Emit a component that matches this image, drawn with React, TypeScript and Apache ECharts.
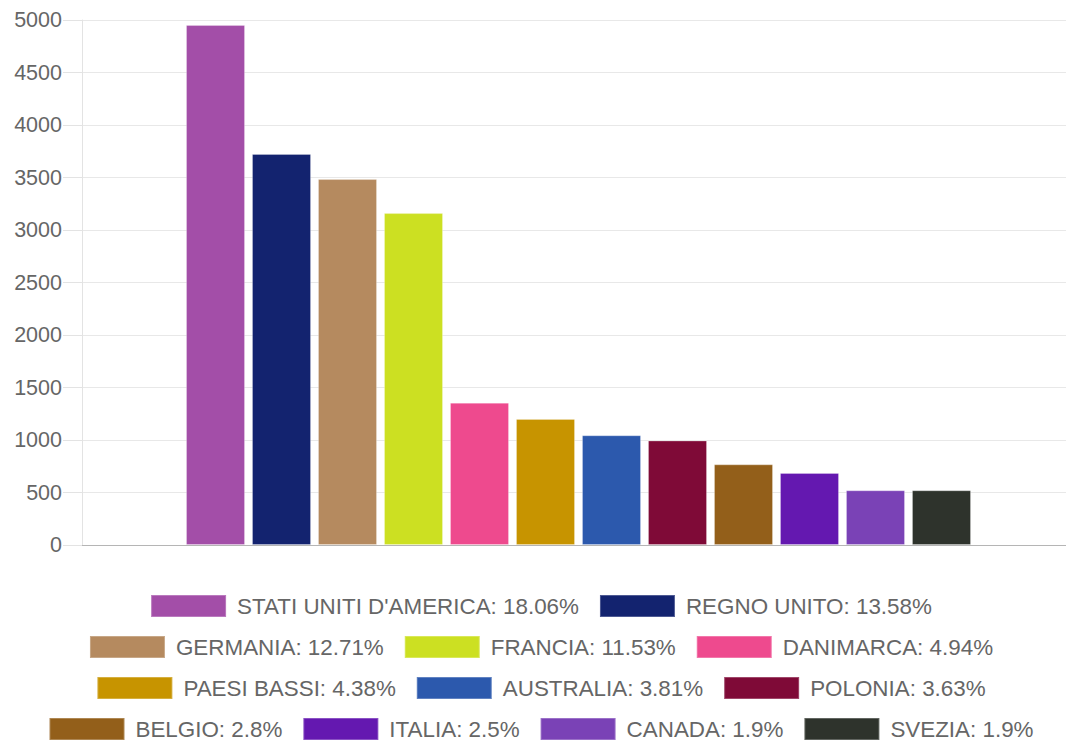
import React, { useEffect, useRef } from "react";
import * as echarts from "echarts";

const countries = [
  "STATI UNITI D'AMERICA",
  "REGNO UNITO",
  "GERMANIA",
  "FRANCIA",
  "DANIMARCA",
  "PAESI BASSI",
  "AUSTRALIA",
  "POLONIA",
  "BELGIO",
  "ITALIA",
  "CANADA",
  "SVEZIA",
];
const values = [4952, 3724, 3485, 3161, 1355, 1201, 1045, 995, 768, 686, 521, 521];
const percents = ["18.06", "13.58", "12.71", "11.53", "4.94", "4.38", "3.81", "3.63", "2.8", "2.5", "1.9", "1.9"];
const colors = [
  "#A34EA8",
  "#13236F",
  "#B58A5F",
  "#CCE022",
  "#EE4A8E",
  "#C79400",
  "#2C59AD",
  "#7F0A37",
  "#935F1A",
  "#6418B0",
  "#7A42B6",
  "#2E332C",
];
const legendRows = [[0, 1], [2, 3, 4], [5, 6, 7], [8, 9, 10, 11]];
const yTicks = { min: 0, max: 5000, interval: 500 };

export default function App() {
  const ref = useRef<HTMLDivElement>(null);
  useEffect(() => {
    document.body.style.margin = "0";
    document.body.style.overflow = "hidden";
    const chart = echarts.init(ref.current!, null, { renderer: "svg" });
    const names = countries.map((c, i) => `${c}: ${percents[i]}%`);
    const rowTops = [594, 635, 676, 717];
    chart.setOption({
      animation: false,
      textStyle: { fontFamily: "Liberation Sans, Arial, sans-serif" },
      grid: { left: 82, top: 20, width: 993, height: 525 },
      xAxis: {
        type: "category",
        data: [""],
        axisLine: { show: true, lineStyle: { color: "#b5b5b5", width: 1 } },
        axisTick: { show: false },
        axisLabel: { show: false },
        splitLine: { show: false },
      },
      yAxis: {
        type: "value",
        min: yTicks.min,
        max: yTicks.max,
        interval: yTicks.interval,
        axisLine: { show: true, lineStyle: { color: "#e3e3e3" } },
        axisTick: { show: true, length: 19, lineStyle: { color: "#e3e3e3" } },
        axisLabel: {
          color: "#666",
          fontSize: 21.5,
          margin: 20,
          formatter: (v: number) => String(v),
          fontFamily: "Liberation Sans, Arial, sans-serif",
        },
        splitLine: { show: true, lineStyle: { color: "#e8e8e8", width: 1 } },
      },
      legend: legendRows.map((row, r) => ({
        data: row.map((i) => names[i]),
        left: "center",
        top: rowTops[r],
        padding: 0,
        itemWidth: 75,
        itemHeight: 22,
        itemGap: 20,
        icon: "rect",
        textStyle: {
          color: "#666",
          fontSize: 22.4,
          lineHeight: 22,
          padding: [0, 0, 0, 6],
          fontFamily: "Liberation Sans, Arial, sans-serif",
        },
      })),
      series: values.map((v, i) => ({
        type: "bar",
        name: names[i],
        data: [v],
        barWidth: 59,
        barGap: "11.86%",
        itemStyle: { color: colors[i], borderColor: "rgba(255,255,255,0.25)", borderWidth: 1 },
      })),
    });
    return () => chart.dispose();
  }, []);
  return <div ref={ref} style={{ width: 1082, height: 740 }} />;
}
